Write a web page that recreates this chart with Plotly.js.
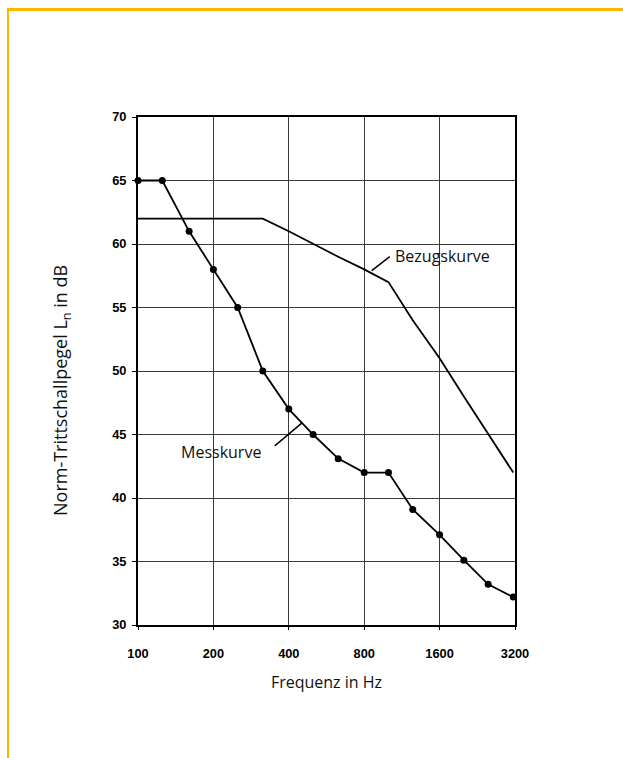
<!DOCTYPE html>
<html>
<head>
<meta charset="utf-8">
<script src="https://cdn.plot.ly/plotly-3.0.1.min.js"></script>
<style>
  html, body { margin:0; padding:0; background:#fff; overflow:hidden; }
  #frame { position:absolute; left:7px; top:8px; width:700px; height:800px;
           border-top:3px solid rgb(253,181,0); border-left:2px solid rgb(253,181,0);
           pointer-events:none; z-index:2; }
  #chart { position:absolute; left:0; top:0; width:623px; height:758px; }
</style>
</head>
<body>
<div id="chart"></div>
<div id="frame"></div>
<script>
// Third-octave band centre frequencies (Hz)
const frequencies = [100,125,160,200,250,315,400,500,630,800,1000,1250,1600,2000,2500,3150];
// Messkurve (measured), dB
const messkurve = [65,65,61,58,55,50,47,45,43.1,42,42,39.1,37.1,35.1,33.2,32.2];
// Bezugskurve (reference curve), dB
const bezugskurve = [62,62,62,62,62,62,61,60,59,58,57,54,51,48,45,42];
// Axis ticks
const xTickVals = [100,200,400,800,1600,3200];
const xTickText = ["100","200","400","800","1600","3200"];
const yTickVals = [30,35,40,45,50,55,60,65,70];

const textFont = {family:"Open Sans, Noto Sans, sans-serif", size:16, color:"#111"};
const yTitleFont = {family:"Open Sans, Noto Sans, sans-serif", size:18, color:"#111"};
const tickFont = {family:"Liberation Sans, Arial, sans-serif", size:12.8, color:"#000", weight:"bold"};

const traces = [
  {x:frequencies, y:bezugskurve, type:"scatter", mode:"lines",
   line:{color:"#000", width:1.8}, hoverinfo:"skip", showlegend:false},
  {x:frequencies, y:messkurve, type:"scatter", mode:"lines+markers",
   line:{color:"#000", width:1.8}, marker:{color:"#000", size:7},
   hoverinfo:"skip", showlegend:false, cliponaxis:false}
];

const layout = {
  width:623, height:758,
  margin:{l:138, r:108, t:117, b:133, pad:0},
  paper_bgcolor:"rgba(0,0,0,0)", plot_bgcolor:"#fff",
  showlegend:false,
  xaxis:{
    type:"log", range:[2, Math.log10(3200)],
    tickvals:xTickVals, ticktext:xTickText,
    tickfont:tickFont, ticks:"outside", ticklen:3, tickcolor:"#000",
    ticklabelstandoff:13,
    showgrid:true, gridcolor:"#3a3a3a", gridwidth:1,
    showline:true, linecolor:"#000", linewidth:2, mirror:true,
    zeroline:false,
    title:{text:"Frequenz in Hz", font:textFont, standoff:16}
  },
  yaxis:{
    range:[30,70], tickvals:yTickVals,
    tickfont:tickFont, ticks:"outside", ticklen:4, tickcolor:"#000",
    ticklabelstandoff:3,
    showgrid:true, gridcolor:"#3a3a3a", gridwidth:1,
    showline:true, linecolor:"#000", linewidth:2, mirror:true,
    zeroline:false
  },
  shapes:[
    {type:"line", xref:"x", yref:"y", x0:857, y0:57.9, x1:1012, y1:59.0,
     line:{color:"#000", width:1.5}},
    {type:"line", xref:"x", yref:"y", x0:351.6, y0:44.1, x1:452.9, y1:45.93,
     line:{color:"#000", width:1.5}}
  ],
  annotations:[
    {text:"Norm-Trittschallpegel L<sub>n</sub> in dB", xref:"paper", yref:"paper",
     x:-0.2016, y:0.4626, textangle:-90, xanchor:"center", yanchor:"middle",
     showarrow:false, font:yTitleFont},
    {text:"Bezugskurve", xref:"x", yref:"y", x:3.018, y:59.06,
     xanchor:"left", yanchor:"middle", showarrow:false, font:textFont},
    {text:"Messkurve", xref:"x", yref:"y", x:2.331, y:43.65,
     xanchor:"center", yanchor:"middle", showarrow:false, font:textFont}
  ]
};

Plotly.newPlot("chart", traces, layout, {staticPlot:true, displayModeBar:false});
</script>
</body>
</html>
